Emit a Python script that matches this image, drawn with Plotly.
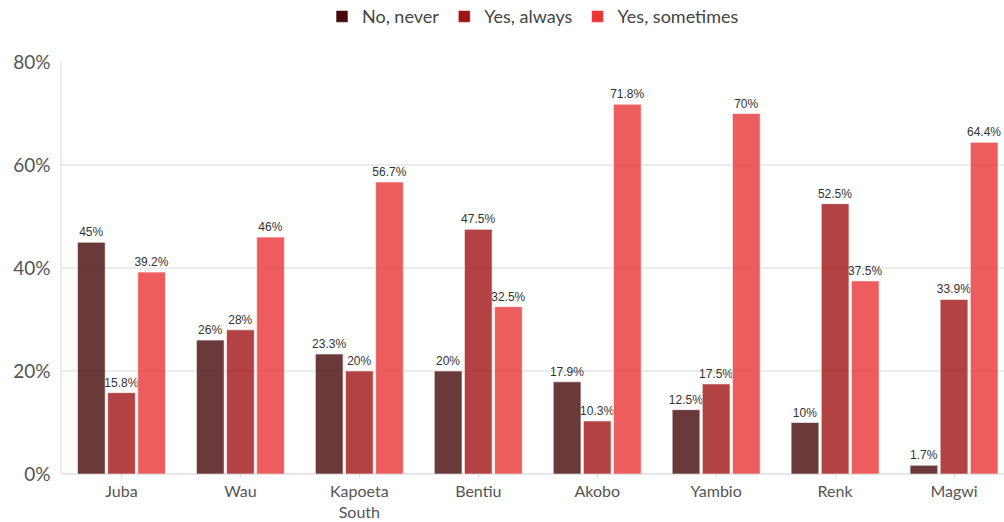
import plotly.graph_objects as go

cities = ["Juba", "Wau", "Kapoeta<br>South", "Bentiu", "Akobo", "Yambio", "Renk", "Magwi"]
no_never = [45, 26, 23.3, 20, 17.9, 12.5, 10, 1.7]
yes_always = [15.8, 28, 20, 47.5, 10.3, 17.5, 52.5, 33.9]
yes_sometimes = [39.2, 46, 56.7, 32.5, 71.8, 70, 37.5, 64.4]
y_ticks = [0, 20, 40, 60, 80]
y_tick_labels = ["0%", "20%", "40%", "60%", "80%"]

series = [
    ("No, never", no_never, "#460808"),
    ("Yes, always", yes_always, "#a11414"),
    ("Yes, sometimes", yes_sometimes, "#e93535"),
]

fig = go.Figure()
for name, vals, color in series:
    fig.add_trace(go.Bar(
        name=name,
        x=cities,
        y=vals,
        marker=dict(color=color, opacity=0.8, line=dict(color="rgba(255,255,255,0.6)", width=1)),
        text=[f"{v:g}%" for v in vals],
        textposition="outside",
        cliponaxis=False,
        textfont=dict(family="Liberation Sans, Arial", size=12, color="#333333"),
    ))

fig.update_layout(
    width=1004,
    height=522,
    barmode="group",
    bargap=0.24,
    bargroupgap=0.08,
    plot_bgcolor="white",
    paper_bgcolor="white",
    margin=dict(l=62, r=0, t=62, b=48, autoexpand=False),
    uniformtext=dict(minsize=12, mode="show"),
    font=dict(family="Lato", color="#555555"),
    legend=dict(
        orientation="h",
        x=0.5,
        xanchor="center",
        y=1.11,
        yanchor="middle",
        font=dict(size=18, color="#444444"),
        itemwidth=30,
        traceorder="normal",
    ),
    xaxis=dict(
        range=[-0.5, 7.42],
        tickfont=dict(size=16, color="#555555"),
        ticks="outside",
        ticklen=3,
        tickcolor="#dddddd",
        ticklabelstandoff=0,
        showgrid=False,
        showline=False,
    ),
    yaxis=dict(
        range=[0, 80],
        tickvals=y_ticks,
        ticktext=y_tick_labels,
        tickfont=dict(size=19, color="#555555"),
        gridcolor="#ebebeb",
        gridwidth=1.5,
        zeroline=True,
        zerolinecolor="#e6e6e6",
        zerolinewidth=2,
        showline=True,
        linecolor="#ebebeb",
        linewidth=1.5,
        ticklabelstandoff=6,
    ),
)

fig.write_html("out.html")
